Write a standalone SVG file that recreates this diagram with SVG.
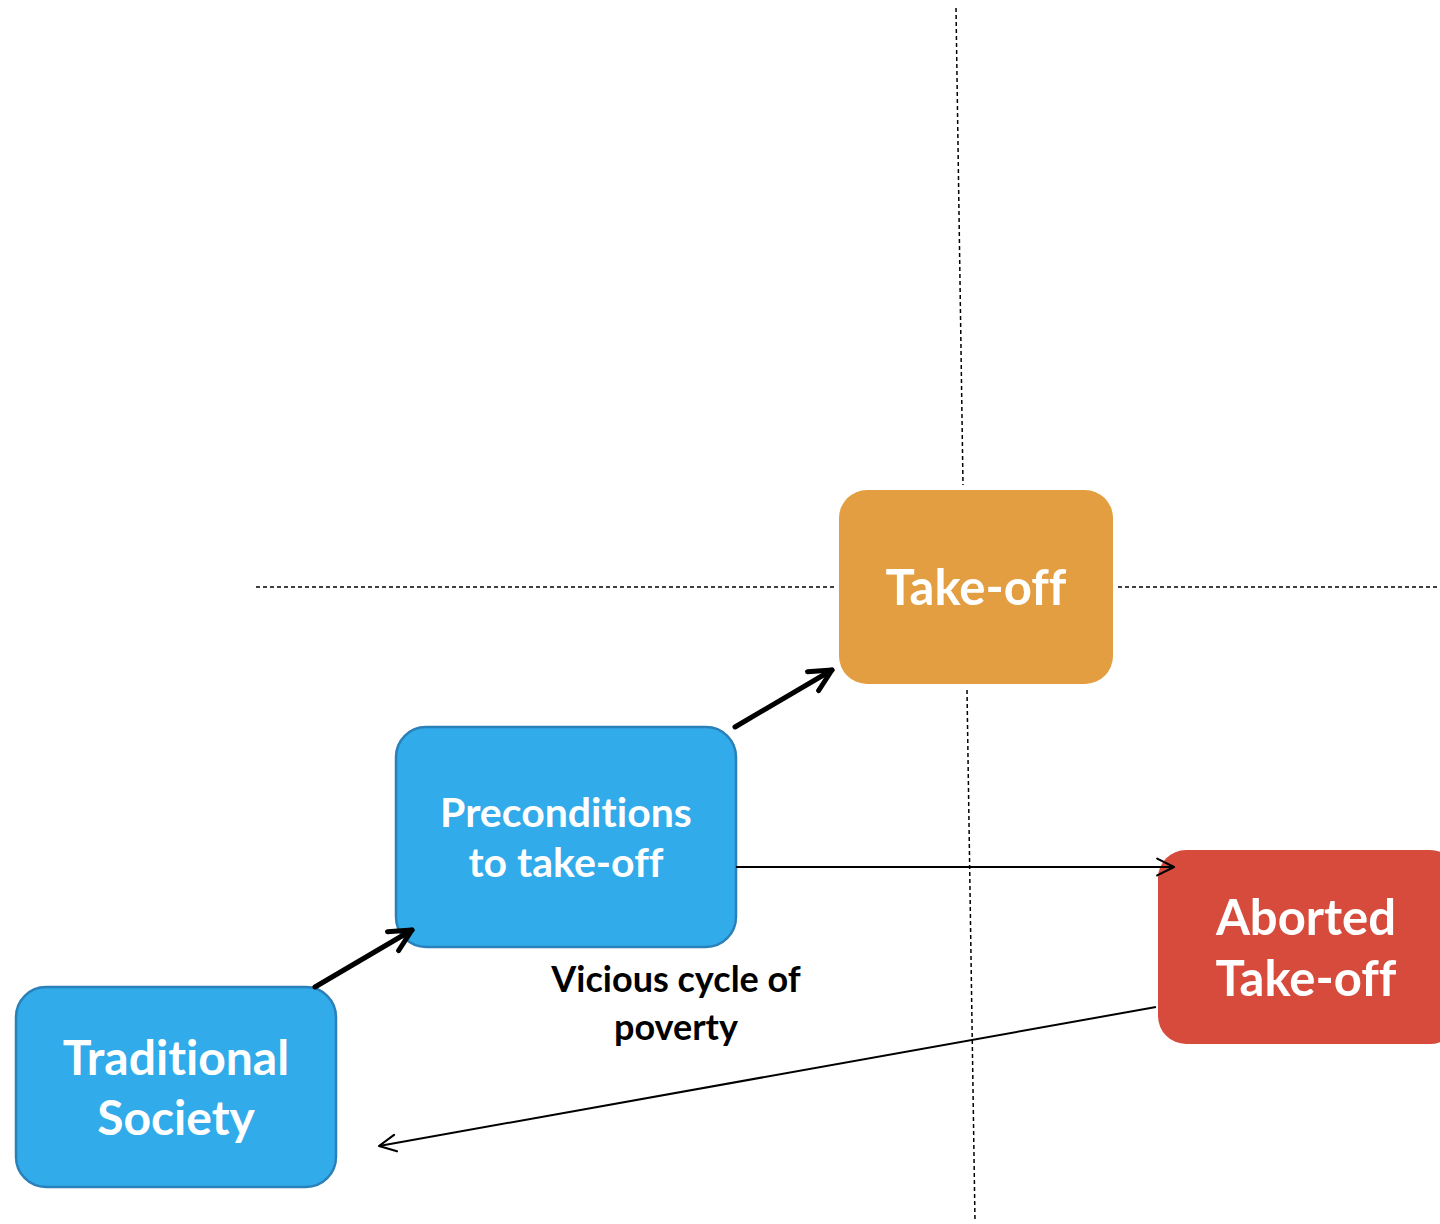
<svg xmlns="http://www.w3.org/2000/svg" width="1440" height="1224" viewBox="0 0 1440 1224">
<style>
.t{font-family:Lato,"Open Sans","Liberation Sans",sans-serif;font-weight:700;fill:#fff;text-anchor:middle;font-variant-ligatures:no-common-ligatures}
.lbl{font-family:Lato,"Open Sans","Liberation Sans",sans-serif;font-weight:700;fill:#000;text-anchor:middle;font-size:36px}
.dash{stroke:#000;stroke-width:1.5;stroke-dasharray:4 3;fill:none}
.thick{stroke:#000;stroke-width:5;fill:none;stroke-linecap:round}
.thin{stroke:#000;stroke-width:2;fill:none}
</style>
<defs>
<marker id="hk" viewBox="0 0 10 10" refX="9" refY="5" markerWidth="5.5" markerHeight="5.5" orient="auto" markerUnits="strokeWidth">
<path d="M1,1 L9,5 L1,9" fill="none" stroke="#000" stroke-width="1.8" stroke-linecap="round" stroke-linejoin="round"/>
</marker>
<marker id="hn" viewBox="0 0 10 10" refX="9" refY="5" markerWidth="12" markerHeight="12" orient="auto" markerUnits="strokeWidth">
<path d="M2,1.5 L9,5 L2,8.5" fill="none" stroke="#000" stroke-width="0.9" stroke-linecap="round" stroke-linejoin="round"/>
</marker>
</defs>
<g id="guides">
<line class="dash" x1="256" y1="587" x2="834" y2="587"/>
<line class="dash" x1="1118" y1="587" x2="1440" y2="587"/>
<line class="dash" x1="956" y1="8" x2="963" y2="485"/>
<line class="dash" x1="967" y1="690" x2="975" y2="1222"/>
</g>
<g id="traditional">
<rect x="16" y="987" width="320" height="200" rx="30" fill="#31ABEA" stroke="#2A80B8" stroke-width="2.5"/>
<text class="t" font-size="48" x="176" y="1075">Traditional</text>
<text class="t" font-size="48" x="176" y="1135">Society</text>
</g>
<g id="preconditions">
<rect x="396" y="727" width="340" height="220" rx="30" fill="#31ABEA" stroke="#2A80B8" stroke-width="2.5"/>
<text class="t" font-size="41" x="566" y="827">Preconditions</text>
<text class="t" font-size="41" x="566" y="877">to take-off</text>
</g>
<g id="takeoff">
<rect x="839" y="490" width="274" height="194" rx="28" fill="#E29E40"/>
<text class="t" font-size="49" x="976" y="605">Take-off</text>
</g>
<g id="aborted">
<rect x="1158" y="850" width="300" height="194" rx="28" fill="#D64B3C"/>
<text class="t" font-size="49" x="1306" y="935">Aborted</text>
<text class="t" font-size="49" x="1306" y="996">Take-off</text>
</g>
<g id="label">
<text class="lbl" x="676" y="992">Vicious cycle of</text>
<text class="lbl" x="676" y="1040">poverty</text>
</g>
<g id="connectors">
<line class="thick" x1="315" y1="987" x2="412" y2="930" marker-end="url(#hk)"/>
<line class="thick" x1="735" y1="727" x2="832" y2="670" marker-end="url(#hk)"/>
<line class="thin" x1="736" y1="867" x2="1174" y2="867" marker-end="url(#hn)"/>
<line class="thin" x1="1156" y1="1007" x2="379" y2="1146" marker-end="url(#hn)"/>
</g>
</svg>
